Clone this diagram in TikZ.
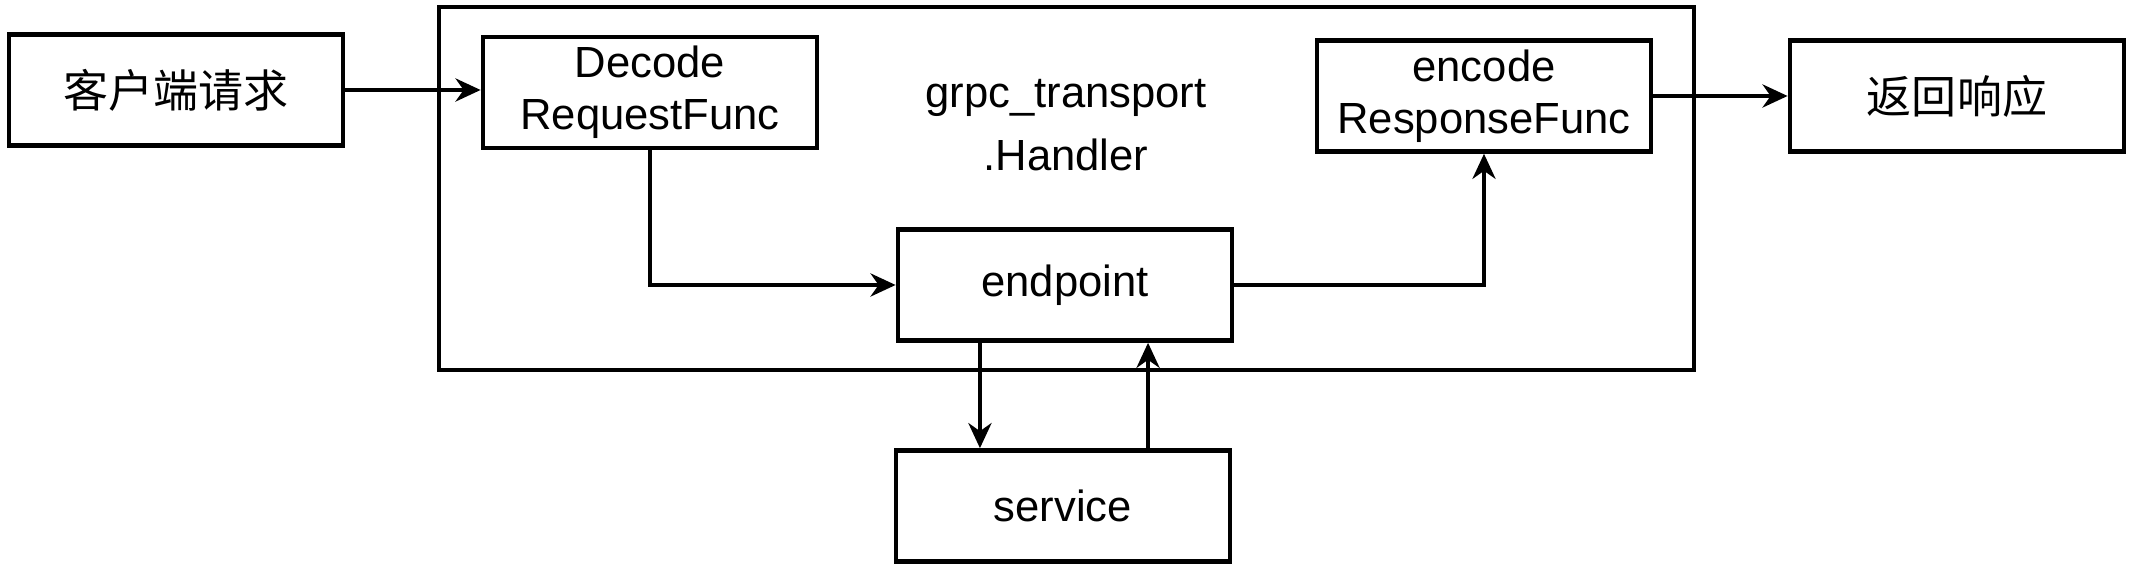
\documentclass[tikz,border=0pt]{standalone}
\usepackage{fontspec}
\setmainfont{Liberation Sans}
\newfontfamily\cjkfont{Noto Sans CJK SC}
\usetikzlibrary{arrows.meta}
\tikzset{
  blk/.style={draw, line width=1.3pt, minimum width=3.34cm, minimum height=1.11cm,
    inner sep=0pt, align=center, font=\fontsize{12.4}{14.8}\selectfont},
  cjk/.style={font=\cjkfont\fontsize{12.8}{15}\selectfont},
  flow/.style={line width=1.3pt, -{Stealth[length=2.5mm,width=2.3mm,inset=0.8mm]}},
}
\begin{document}
\begin{tikzpicture}[x=0.01cm, y=-0.01cm]
	\useasboundingbox (0,0) rectangle (2132,580);
	\draw[line width=1.3pt] (439,7) rectangle (1694,370);
	\node[blk, cjk] (client) at (176,90) {客户端请求};
	\node[blk] (decode) at (650,92.5) {Decode\\RequestFunc};
	\node[align=center, font=\fontsize{12.4}{18}\selectfont] (handler) at (1066,125) {grpc\_transport\\.Handler};
	\node[blk] (encode) at (1484,96) {encode\\ResponseFunc};
	\node[blk, cjk] (reply) at (1957,96) {返回响应};
	\node[blk] (endpoint) at (1065,285) {endpoint};
	\node[blk] (service) at (1063,506) {service};
	\draw[flow] (client.east) -- (client.east -| decode.west);
	\draw[flow] (decode.south) |- (endpoint.west);
	\draw[flow] (endpoint.east) -| (encode.south);
	\draw[flow] (encode.east) -- (encode.east -| reply.west);
	\draw[flow] ([xshift=-0.85cm]endpoint.south) -- ([xshift=-0.85cm]endpoint.south |- service.north);
	\draw[flow] ([xshift=0.85cm]service.north) -- ([xshift=0.85cm]service.north |- endpoint.south);
\end{tikzpicture}
\end{document}
